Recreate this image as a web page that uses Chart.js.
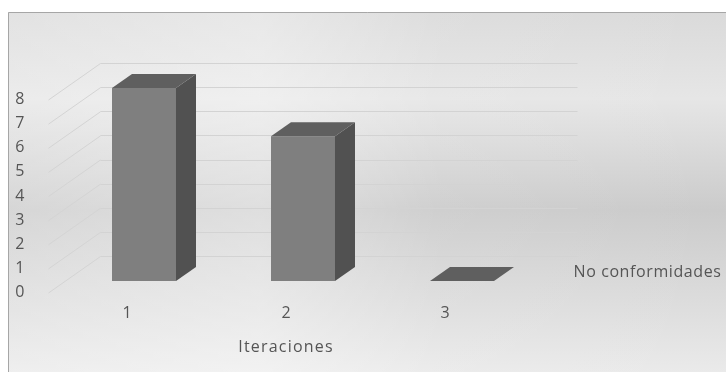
<!DOCTYPE html>
<html>
<head>
<meta charset="utf-8">
<script src="https://cdn.jsdelivr.net/npm/chart.js@4/dist/chart.umd.min.js"></script>
<style>
html,body{margin:0;padding:0;background:#fff;}
#wrap{width:726px;height:372px;position:relative;}
</style>
</head>
<body>
<div id="wrap"><canvas id="c" width="726" height="372"></canvas></div>
<script>
// ---- data ----
const categories = ['1', '2', '3'];
const noConformidades = [8, 6, 0];
const seriesName = 'No conformidades';
const xTitle = 'Iteraciones';
const yMin = 0;
const yMax = 8;
const yStep = 1;

// ---- 3D look (style, not data) ----
const BAR_DX = 20, BAR_DY = 14;          // bar depth
const BACK_DX = 36, BACK_DY = 25;        // back wall offset from bar front plane
const FRONT_DX = 16, FRONT_DY = 12;      // front edge of floor/left wall
const TEXT = '#555555';
const FONT = '"Open Sans", "DejaVu Sans", sans-serif';

const threeD = {
  id: 'threeD',
  beforeDraw(chart) {
    const ctx = chart.ctx, W = chart.width, H = chart.height;
    ctx.save();
    ctx.fillStyle = '#ffffff';
    ctx.fillRect(0, 0, W, H);
    const fx = 8, fy = 12;
    const g = ctx.createLinearGradient(0, fy, 0, H);
    g.addColorStop(0, '#dadada');
    g.addColorStop(0.24, '#e6e6e6');
    g.addColorStop(0.55, '#cbcbcb');
    g.addColorStop(0.8, '#dcdcdc');
    g.addColorStop(1, '#eaeaea');
    ctx.fillStyle = g;
    ctx.fillRect(fx, fy, W - fx + 5, H - fy + 5);
    const h = ctx.createLinearGradient(fx, 0, W, 0);
    h.addColorStop(0, 'rgba(255,255,255,0.22)');
    h.addColorStop(0.35, 'rgba(255,255,255,0.38)');
    h.addColorStop(0.6, 'rgba(255,255,255,0.08)');
    h.addColorStop(1, 'rgba(255,255,255,0.0)');
    ctx.fillStyle = h;
    ctx.fillRect(fx, fy, W - fx + 5, H - fy + 5);
    ctx.strokeStyle = '#a6a6a6';
    ctx.lineWidth = 1;
    ctx.beginPath();
    ctx.moveTo(fx + 0.5, H + 5);
    ctx.lineTo(fx + 0.5, fy + 0.5);
    ctx.lineTo(W + 5, fy + 0.5);
    ctx.stroke();
    ctx.restore();
  },
  beforeDatasetsDraw(chart) {
    const ctx = chart.ctx, ys = chart.scales.y, a = chart.chartArea;
    ctx.save();
    ctx.lineWidth = 1;
    for (let v = yMin; v <= yMax; v += yStep) {
      const y = ys.getPixelForValue(v);
      ctx.strokeStyle = '#d3d3d3';
      ctx.beginPath();
      ctx.moveTo(a.left + BACK_DX, Math.round(y - BACK_DY) + 0.5);
      ctx.lineTo(a.right + BACK_DX, Math.round(y - BACK_DY) + 0.5);
      ctx.stroke();
      ctx.strokeStyle = '#d4d4d4';
      ctx.beginPath();
      ctx.moveTo(a.left - FRONT_DX, y + FRONT_DY);
      ctx.lineTo(a.left + BACK_DX, y - BACK_DY + 0.5);
      ctx.stroke();
    }
    ctx.restore();
  },
  afterDatasetsDraw(chart) {
    const ctx = chart.ctx;
    const meta = chart.getDatasetMeta(0);
    ctx.save();
    meta.data.forEach((bar) => {
      const p = bar.getProps(['x', 'y', 'base', 'width'], true);
      const l = p.x - p.width / 2, r = p.x + p.width / 2;
      const top = p.y, base = p.base;
      ctx.fillStyle = '#515151';
      ctx.beginPath();
      ctx.moveTo(r, top);
      ctx.lineTo(r + BAR_DX, top - BAR_DY);
      ctx.lineTo(r + BAR_DX, base - BAR_DY);
      ctx.lineTo(r, base);
      ctx.closePath();
      ctx.fill();
      ctx.fillStyle = '#5f5f5f';
      ctx.beginPath();
      ctx.moveTo(l, top);
      ctx.lineTo(l + BAR_DX, top - BAR_DY);
      ctx.lineTo(r + BAR_DX, top - BAR_DY);
      ctx.lineTo(r, top);
      ctx.closePath();
      ctx.fill();
    });
    const xs = chart.scales.x, a = chart.chartArea;
    ctx.fillStyle = TEXT;
    ctx.font = '16px ' + FONT;
    ctx.textBaseline = 'middle';
    ctx.textAlign = 'center';
    ctx.letterSpacing = '1.2px';
    const mid = (xs.getPixelForValue(0) + xs.getPixelForValue(categories.length - 1)) / 2;
    ctx.fillText(xTitle, mid - 17, 347);
    ctx.letterSpacing = '0.6px';
    ctx.textAlign = 'left';
    ctx.fillText(seriesName, a.right + 32, 272);
    ctx.restore();
  }
};

new Chart(document.getElementById('c'), {
  type: 'bar',
  data: {
    labels: categories,
    datasets: [{
      label: seriesName,
      data: noConformidades,
      backgroundColor: '#7f7f7f',
      borderWidth: 0,
      categoryPercentage: 1,
      barPercentage: 0.4025
    }]
  },
  options: {
    responsive: false,
    animation: false,
    layout: { padding: { left: 0, top: 88, right: 184.5, bottom: 0 } },
    plugins: { legend: { display: false }, tooltip: { enabled: false } },
    scales: {
      x: {
        grid: { display: false },
        border: { display: false },
        ticks: { color: TEXT, font: { size: 16, family: FONT }, padding: 15, labelOffset: -17 },
        afterFit: (s) => { s.height = 91; }
      },
      y: {
        min: yMin, max: yMax,
        grid: { display: false },
        border: { display: false },
        ticks: { stepSize: yStep, color: TEXT, font: { size: 16, family: FONT }, padding: 32, labelOffset: 11.5 },
        afterFit: (s) => { s.width = 64.5; }
      }
    }
  },
  plugins: [threeD]
});
</script>
</body>
</html>
